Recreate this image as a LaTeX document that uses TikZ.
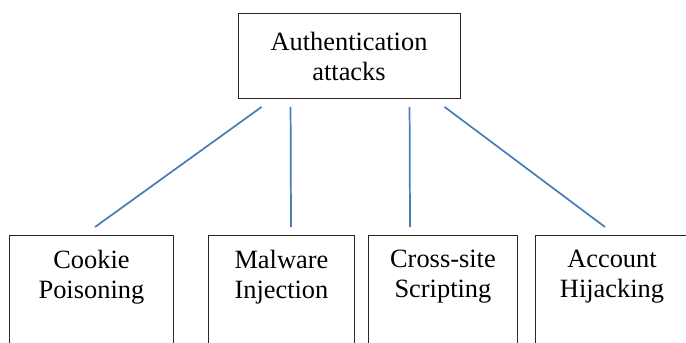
\documentclass[tikz,border=0pt]{standalone}
\usepackage{fontspec}
\setmainfont{Liberation Serif}
\usepackage{tikz}
\usetikzlibrary{calc}
\definecolor{linkblue}{HTML}{4A7EBB}

\tikzset{
    box/.style={draw=black!85, line width=0.65pt, rectangle, inner sep=0pt},
    label text/.style={inner sep=0pt, align=center, font=\fontsize{19.8}{22.5}\selectfont},
    link/.style={draw=linkblue, line width=1.3pt}
}

\begin{document}
\begin{tikzpicture}[x=0.75pt, y=-0.75pt]
    \clip (0,0) rectangle (686,343);
    % root
    \node[box, minimum width=166.5pt, minimum height=63.75pt, label text] (auth) at (349,56) {Authentication\\attacks};
    % leaves
    \node[box, anchor=north west, minimum width=123pt, minimum height=120pt] (cookie) at (9,235) {};
    \node[box, anchor=north west, minimum width=109.5pt, minimum height=120pt] (malware) at (208,235) {};
    \node[box, anchor=north west, minimum width=111.75pt, minimum height=120pt] (xss) at (368,235) {};
    \node[box, anchor=north west, minimum width=127.5pt, minimum height=120pt] (hijack) at (535,235) {};
    \node[label text, anchor=north] (cookietext) at ($(cookie.north)+(0,15)$) {Cookie\\Poisoning};
    \node[label text, anchor=north] (malwaretext) at ($(malware.north)+(0,15)$) {Malware\\Injection};
    \node[label text, anchor=north] (xsstext) at ($(xss.north)+(0,15)$) {Cross-site\\Scripting};
    \node[label text, anchor=north] (hijacktext) at ($(hijack.north west)+(77,15)$) {Account\\Hijacking};
    % connectors
    \draw[link] ($(auth.south west)+(24,8)$) -- ($(cookie.north west)+(86,-8)$);
    \draw[link] ($(auth.south west)+(53,8)$) -- ($(malware.north west)+(83,-8)$);
    \draw[link] ($(auth.south west)+(172,8)$) -- ($(xss.north west)+(42,-8)$);
    \draw[link] ($(auth.south west)+(207,8)$) -- ($(hijack.north west)+(70,-8)$);
\end{tikzpicture}
\end{document}
